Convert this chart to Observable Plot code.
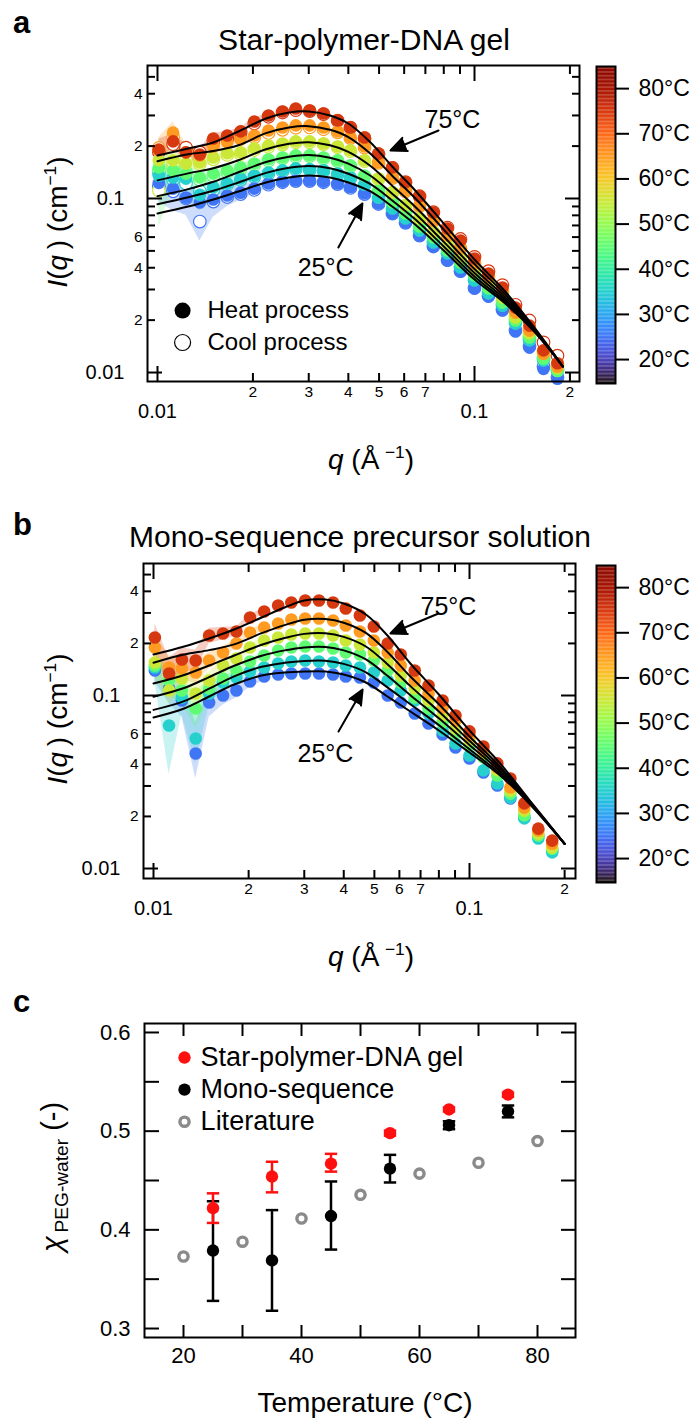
<!DOCTYPE html>
<html><head><meta charset="utf-8">
<script src="https://cdn.jsdelivr.net/npm/d3@7"></script>
<script src="https://cdn.jsdelivr.net/npm/@observablehq/plot@0.6"></script>
<style>
body{margin:0;background:#fff;font-family:"Liberation Sans",Arial,Helvetica,sans-serif;}
#root{position:relative;width:698px;height:1421px;overflow:hidden;background:#fff;}
#root svg{position:absolute;}
.abs{position:absolute;white-space:nowrap;line-height:1;color:#000;}
</style></head><body><div id="root"></div>
<script>
// ---------------- data: panels a & b (SAXS curves) ----------------
const temps = [25, 35, 45, 55, 65, 75];
const qData = [0.0101, 0.0112, 0.0123, 0.0136, 0.0150, 0.0166, 0.0183, 0.0202, 0.0224, 0.0248, 0.0273, 0.0302, 0.0334, 0.0370, 0.0406, 0.0450, 0.0498, 0.0551, 0.0606, 0.0671, 0.0742, 0.0822, 0.0903, 0.1000, 0.1107, 0.1225, 0.1347, 0.1491, 0.1651, 0.1827];
const qFitA = [0.01, 0.0125, 0.015, 0.018, 0.022, 0.026, 0.03, 0.035, 0.04, 0.047, 0.055, 0.065, 0.08, 0.1, 0.125, 0.155, 0.19];
const qFitB = [0.01, 0.0125, 0.015, 0.018, 0.022, 0.026, 0.03, 0.035, 0.04, 0.047, 0.055, 0.065, 0.08, 0.1, 0.125, 0.155, 0.2];

// panel a, heat process
const aHeat25 = [0.123, 0.114, 0.101, 0.0949, 0.0987, 0.104, 0.108, 0.114, 0.122, 0.125, 0.127, 0.127, 0.125, 0.122, 0.116, 0.107, 0.0936, 0.0820, 0.0727, 0.0613, 0.0530, 0.0440, 0.0381, 0.0304, 0.0273, 0.0227, 0.0172, 0.0139, 0.0105, 0.0092];
const aHeat35 = [0.135, 0.132, 0.130, 0.105, 0.116, 0.122, 0.130, 0.135, 0.141, 0.145, 0.149, 0.147, 0.145, 0.139, 0.132, 0.120, 0.101, 0.0876, 0.0767, 0.0654, 0.0559, 0.0483, 0.0401, 0.0338, 0.0285, 0.0242, 0.0191, 0.0153, 0.0117, 0.0102];
const aHeat45 = [0.151, 0.145, 0.139, 0.132, 0.139, 0.145, 0.151, 0.159, 0.168, 0.172, 0.177, 0.177, 0.172, 0.166, 0.155, 0.135, 0.111, 0.0949, 0.0820, 0.0690, 0.0597, 0.0503, 0.0429, 0.0361, 0.0304, 0.0252, 0.0199, 0.0159, 0.0120, 0.0102];
const aHeat55 = [0.166, 0.166, 0.159, 0.161, 0.172, 0.182, 0.184, 0.194, 0.202, 0.207, 0.213, 0.213, 0.207, 0.199, 0.189, 0.166, 0.130, 0.108, 0.0912, 0.0767, 0.0637, 0.0537, 0.0458, 0.0386, 0.0325, 0.0270, 0.0207, 0.0168, 0.0128, 0.0106];
const aHeat65 = [0.189, 0.239, 0.184, 0.177, 0.199, 0.210, 0.218, 0.230, 0.246, 0.256, 0.263, 0.263, 0.256, 0.243, 0.224, 0.199, 0.161, 0.132, 0.111, 0.0912, 0.0747, 0.0613, 0.0516, 0.0423, 0.0352, 0.0288, 0.0221, 0.0174, 0.0128, 0.0108];
const aHeat75 = [0.191, 0.213, 0.184, 0.179, 0.221, 0.230, 0.243, 0.277, 0.300, 0.316, 0.329, 0.320, 0.308, 0.281, 0.256, 0.224, 0.181, 0.151, 0.124, 0.103, 0.0831, 0.0672, 0.0574, 0.0452, 0.0371, 0.0308, 0.0236, 0.0186, 0.0134, 0.0113];
// panel a, cool process
const aCool25 = [0.118, 0.110, 0.100, 0.0737, 0.0960, 0.102, 0.106, 0.112, 0.120, 0.124, 0.126, 0.126, 0.124, 0.121, 0.115, 0.106, 0.0930, 0.0818, 0.0725, 0.0612, 0.0530, 0.0442, 0.0383, 0.0306, 0.0276, 0.0230, 0.0175, 0.0142, 0.0108, 0.0094];
const aCool35 = [0.140, 0.128, 0.122, 0.110, 0.112, 0.120, 0.128, 0.133, 0.139, 0.143, 0.147, 0.146, 0.144, 0.138, 0.131, 0.119, 0.100, 0.0870, 0.0765, 0.0652, 0.0560, 0.0485, 0.0404, 0.0340, 0.0288, 0.0244, 0.0193, 0.0155, 0.0119, 0.0103];
const aCool45 = [0.145, 0.150, 0.142, 0.128, 0.135, 0.142, 0.148, 0.156, 0.165, 0.170, 0.174, 0.175, 0.170, 0.164, 0.153, 0.134, 0.110, 0.0945, 0.0818, 0.0690, 0.0598, 0.0505, 0.0432, 0.0364, 0.0306, 0.0255, 0.0201, 0.0161, 0.0122, 0.0104];
const aCool55 = [0.111, 0.160, 0.165, 0.158, 0.168, 0.178, 0.180, 0.190, 0.198, 0.204, 0.210, 0.210, 0.205, 0.197, 0.187, 0.164, 0.129, 0.108, 0.0910, 0.0765, 0.0640, 0.0540, 0.0460, 0.0390, 0.0328, 0.0272, 0.0210, 0.0170, 0.0130, 0.0108];
const aCool65 = [0.195, 0.225, 0.190, 0.182, 0.205, 0.225, 0.222, 0.225, 0.238, 0.248, 0.255, 0.256, 0.250, 0.240, 0.222, 0.196, 0.160, 0.131, 0.110, 0.0905, 0.0745, 0.0612, 0.0518, 0.0425, 0.0355, 0.0292, 0.0226, 0.0180, 0.0133, 0.0112];
const aCool75 = [0.185, 0.205, 0.196, 0.184, 0.215, 0.221, 0.240, 0.270, 0.295, 0.312, 0.322, 0.318, 0.305, 0.280, 0.255, 0.222, 0.180, 0.150, 0.124, 0.103, 0.0835, 0.0680, 0.0585, 0.0462, 0.0382, 0.0318, 0.0245, 0.0199, 0.0149, 0.0125];
// panel a, fits
const aFit25 = [0.0820, 0.0899, 0.0987, 0.1097, 0.1236, 0.1320, 0.1356, 0.1320, 0.1236, 0.1097, 0.0899, 0.0709, 0.0502, 0.0342, 0.0249, 0.0170, 0.01083];
const aFit35 = [0.0927, 0.1017, 0.1109, 0.1236, 0.1403, 0.1501, 0.1539, 0.1493, 0.1388, 0.1208, 0.0974, 0.0759, 0.0530, 0.0356, 0.0255, 0.0172, 0.01083];
const aFit45 = [0.1032, 0.1132, 0.1247, 0.1415, 0.1621, 0.1738, 0.1778, 0.1716, 0.1587, 0.1351, 0.1066, 0.0819, 0.0563, 0.0373, 0.0262, 0.0173, 0.01083];
const aFit55 = [0.1271, 0.1394, 0.1493, 0.1658, 0.1920, 0.2064, 0.2107, 0.2021, 0.1855, 0.1537, 0.1185, 0.0896, 0.0605, 0.0393, 0.0271, 0.0175, 0.01083];
const aFit65 = [0.1636, 0.1795, 0.1873, 0.2021, 0.2373, 0.2559, 0.2603, 0.2482, 0.2254, 0.1807, 0.1352, 0.1003, 0.0662, 0.0420, 0.0281, 0.0177, 0.01083];
const aFit75 = [0.1767, 0.1938, 0.2098, 0.2427, 0.2884, 0.3121, 0.3162, 0.2999, 0.2698, 0.2098, 0.1527, 0.1112, 0.0718, 0.0446, 0.0292, 0.0180, 0.01083];
// panel a, error bands (first 9 q)
const aBandLo25 = [0.095, 0.085, 0.080, 0.057, 0.078, 0.090, 0.098, 0.106, 0.115];
const aBandHi25 = [0.140, 0.135, 0.120, 0.110, 0.115, 0.118, 0.120, 0.124, 0.130];
const aBandLo35 = [0.110, 0.105, 0.100, 0.085, 0.100, 0.110, 0.120, 0.128, 0.135];
const aBandHi35 = [0.160, 0.155, 0.150, 0.130, 0.130, 0.134, 0.140, 0.142, 0.148];
const aBandLo45 = [0.068, 0.120, 0.125, 0.120, 0.128, 0.136, 0.143, 0.152, 0.162];
const aBandHi45 = [0.190, 0.170, 0.155, 0.145, 0.150, 0.155, 0.160, 0.166, 0.175];
const aBandLo55 = [0.140, 0.150, 0.145, 0.148, 0.160, 0.172, 0.176, 0.186, 0.195];
const aBandHi55 = [0.195, 0.185, 0.175, 0.175, 0.185, 0.193, 0.193, 0.202, 0.210];
const aBandLo65 = [0.160, 0.200, 0.165, 0.162, 0.185, 0.198, 0.208, 0.220, 0.237];
const aBandHi65 = [0.225, 0.275, 0.205, 0.195, 0.215, 0.222, 0.228, 0.240, 0.255];
const aBandLo75 = [0.165, 0.190, 0.165, 0.165, 0.205, 0.218, 0.232, 0.265, 0.290];
const aBandHi75 = [0.220, 0.235, 0.205, 0.195, 0.238, 0.243, 0.255, 0.290, 0.310];

// panel b, data
const bHeat25 = [0.1395, 0.1098, 0.0936, 0.0462, 0.0911, 0.1, 0.1069, 0.1205, 0.1288, 0.1322, 0.134, 0.134, 0.134, 0.1322, 0.1288, 0.1271, 0.1189, 0.1, 0.0911, 0.0787, 0.0689, 0.0595, 0.0501, 0.0432, 0.0359, 0.0302, 0.0254, 0.0197, 0.0155, 0.0127];
const bHeat35 = [0.1451, 0.0671, 0.0974, 0.0564, 0.1027, 0.1189, 0.1271, 0.1376, 0.1451, 0.1531, 0.1572, 0.1593, 0.1572, 0.1551, 0.149, 0.1451, 0.1358, 0.1221, 0.1069, 0.0936, 0.0787, 0.0628, 0.0528, 0.045, 0.0369, 0.031, 0.0257, 0.0195, 0.0149, 0.0124];
const bHeat45 = [0.149, 0.1221, 0.1069, 0.0841, 0.1098, 0.1254, 0.1395, 0.1572, 0.1703, 0.182, 0.1894, 0.192, 0.192, 0.1869, 0.1772, 0.1725, 0.1593, 0.1395, 0.1189, 0.0974, 0.0841, 0.0698, 0.0603, 0.0514, 0.0438, 0.0345, 0.0271, 0.0203, 0.0155, 0.013];
const bHeat55 = [0.1551, 0.1069, 0.1254, 0.1027, 0.1221, 0.149, 0.1636, 0.1894, 0.2079, 0.2164, 0.2253, 0.2283, 0.2283, 0.2223, 0.2079, 0.1971, 0.1772, 0.1551, 0.1305, 0.1098, 0.0936, 0.0766, 0.0645, 0.055, 0.0462, 0.0369, 0.0282, 0.0216, 0.0159, 0.0132];
const bHeat65 = [0.1894, 0.1451, 0.1432, 0.1358, 0.1593, 0.1772, 0.1998, 0.2313, 0.2472, 0.2607, 0.275, 0.2787, 0.2787, 0.2713, 0.2539, 0.2344, 0.2079, 0.1772, 0.149, 0.1221, 0.1027, 0.0853, 0.0717, 0.0587, 0.0481, 0.0384, 0.0294, 0.0225, 0.0166, 0.0139];
const bHeat75 = [0.2164, 0.134, 0.1614, 0.1593, 0.2223, 0.2283, 0.2344, 0.2824, 0.3059, 0.3313, 0.3448, 0.3541, 0.3541, 0.3448, 0.3183, 0.2901, 0.2505, 0.1998, 0.1725, 0.1395, 0.1142, 0.0936, 0.0766, 0.062, 0.0507, 0.0405, 0.0331, 0.0238, 0.017, 0.0145];
const bFit25 = [0.0746, 0.0841, 0.0987, 0.1158, 0.1305, 0.1358, 0.1376, 0.1376, 0.1322, 0.1189, 0.0987, 0.0808, 0.0628, 0.0468, 0.0345, 0.0236, 0.0139];
const bFit35 = [0.0826, 0.0928, 0.1095, 0.1291, 0.1465, 0.1546, 0.1585, 0.1589, 0.1523, 0.1362, 0.1114, 0.089, 0.0674, 0.0489, 0.0353, 0.0238, 0.0139];
const bFit45 = [0.0984, 0.1105, 0.1278, 0.1485, 0.1696, 0.1823, 0.1897, 0.1907, 0.1823, 0.1617, 0.13, 0.1004, 0.0738, 0.0518, 0.0364, 0.0240, 0.0139];
const bFit55 = [0.1173, 0.1314, 0.149, 0.1704, 0.1964, 0.2147, 0.2271, 0.2289, 0.2182, 0.192, 0.1516, 0.1133, 0.0809, 0.0547, 0.0376, 0.0242, 0.0139];
const bFit65 = [0.1547, 0.1724, 0.1829, 0.1974, 0.2292, 0.2552, 0.2742, 0.277, 0.2635, 0.2301, 0.1784, 0.1288, 0.0891, 0.058, 0.0388, 0.0245, 0.0139];
const bFit75 = [0.1725, 0.192, 0.2136, 0.2408, 0.2824, 0.3226, 0.3541, 0.3588, 0.3402, 0.2939, 0.2223, 0.1531, 0.1013, 0.0628, 0.0405, 0.0248, 0.0139];
const bBandLo25 = [0.12, 0.09, 0.075, 0.033, 0.075, 0.088, 0.097, 0.112, 0.122];
const bBandHi25 = [0.16, 0.13, 0.115, 0.07, 0.108, 0.112, 0.117, 0.13, 0.136];
const bBandLo35 = [0.12, 0.035, 0.078, 0.04, 0.088, 0.108, 0.118, 0.13, 0.138];
const bBandHi35 = [0.17, 0.105, 0.118, 0.08, 0.118, 0.13, 0.137, 0.146, 0.153];
const bBandLo45 = [0.125, 0.1, 0.088, 0.065, 0.095, 0.115, 0.13, 0.148, 0.163];
const bBandHi45 = [0.175, 0.145, 0.128, 0.105, 0.125, 0.136, 0.15, 0.166, 0.178];
const bBandLo55 = [0.13, 0.088, 0.108, 0.085, 0.108, 0.137, 0.153, 0.18, 0.2];
const bBandHi55 = [0.18, 0.128, 0.145, 0.122, 0.137, 0.162, 0.175, 0.2, 0.216];
const bBandLo65 = [0.16, 0.12, 0.122, 0.118, 0.143, 0.163, 0.188, 0.22, 0.238];
const bBandHi65 = [0.22, 0.17, 0.165, 0.155, 0.177, 0.192, 0.212, 0.243, 0.257];
const bBandLo75 = [0.18, 0.11, 0.138, 0.138, 0.2, 0.21, 0.22, 0.27, 0.295];
const bBandHi75 = [0.26, 0.165, 0.188, 0.183, 0.245, 0.248, 0.25, 0.295, 0.317];

// axis ticks & labels for a/b
const xMajor = [0.01, 0.1];
const xMinor = [0.02, 0.03, 0.04, 0.05, 0.06, 0.07, 0.08, 0.09, 0.2];
const yMajor = [0.01, 0.1];
const yMinor = [0.02, 0.03, 0.04, 0.05, 0.06, 0.07, 0.08, 0.09, 0.2, 0.3, 0.4, 0.5];
const xMinorLabV = [0.02, 0.03, 0.04, 0.05, 0.06, 0.07, 0.2];
const xMinorLabT = ["2", "3", "4", "5", "6", "7", "2"];
const majorLabV = [0.01, 0.1];
const majorLabT = ["0.01", "0.1"];
const yMinorLabV = [0.02, 0.04, 0.06, 0.2, 0.4];
const yMinorLabT = ["2", "4", "6", "2", "4"];
const cbTicks = [20, 30, 40, 50, 60, 70, 80];

// annotations (data coordinates)
const aArrowX1 = [0.0770, 0.0372], aArrowY1 = [0.246, 0.0523], aArrowX2 = [0.0543, 0.0443], aArrowY2 = [0.1888, 0.0936];
const aNoteX = [0.0852, 0.0339], aNoteY = [0.2807, 0.0401], aNoteT = ["75°C", "25°C"];
const bArrowX1 = [0.0798, 0.0385], bArrowY1 = [0.2979, 0.0619], bArrowX2 = [0.0562, 0.0459], bArrowY2 = [0.2283, 0.1083];
const bNoteX = [0.0858, 0.0350], bNoteY = [0.3227, 0.0462], bNoteT = ["75°C", "25°C"];
const legAX = 0.0120, legATextX = 0.01438, legAY = [0.0227, 0.01488], legAText = ["Heat process", "Cool process"];

// ---------------- data: panel c ----------------
const cLitT = [20, 30, 40, 50, 60, 70, 80];
const cLit = [0.373, 0.388, 0.4115, 0.4355, 0.457, 0.468, 0.490];
const cExpT = [25, 35, 45, 55, 65, 75];
const cGel = [0.422, 0.454, 0.467, 0.498, 0.522, 0.537];
const cGelLo = [0.407, 0.438, 0.459, 0.4955, 0.520, 0.535];
const cGelHi = [0.437, 0.469, 0.477, 0.5005, 0.524, 0.539];
const cMono = [0.379, 0.369, 0.414, 0.462, 0.506, 0.520];
const cMonoLo = [0.328, 0.318, 0.380, 0.448, 0.502, 0.514];
const cMonoHi = [0.429, 0.420, 0.449, 0.476, 0.510, 0.526];
const cXTicks = [20, 30, 40, 50, 60, 70, 80];
const cXLab = [20, 40, 60, 80];
const cYTicks = [0.3, 0.35, 0.4, 0.45, 0.5, 0.55, 0.6];
const cYLab = [0.3, 0.4, 0.5, 0.6];
const cLegX = 20.17, cLegTextX = 22.9, cLegY = [0.5746, 0.5421, 0.5096];
const cLegText = ["Star-polymer-DNA gel", "Mono-sequence", "Literature"];

// ---------------- helpers ----------------
const FONT = "'Liberation Sans', Arial, Helvetica, sans-serif";
const root = document.getElementById("root");
const colorScale = {type: "linear", scheme: "turbo", domain: [15, 85]};
const pts = (qs, vals, t) => vals.map((v, i) => ({q: qs[i], I: v, T: t}));
const bnd = (lo, hi, t) => lo.map((v, i) => ({q: qData[i], lo: v, hi: hi[i], T: t}));

function place(node, left, top) {
  node.style.left = left + "px"; node.style.top = top + "px";
  root.appendChild(node);
}
function html(h, x, y, fs, mode, bold) {
  const d = document.createElement("div");
  d.className = "abs";
  d.style.fontSize = fs + "px";
  if (bold) d.style.fontWeight = "bold";
  if (mode === "rot") d.style.transform = "translate(-50%,-50%) rotate(-90deg)";
  else if (mode === "center") d.style.transform = "translate(-50%,-50%)";
  d.innerHTML = h;
  place(d, x, y);
}
function frameTicks(xMaj, xMin, yMaj, yMin, xl, xs, yl, ys) {
  const o = {tickFormat: () => "", strokeWidth: 2, label: null};
  const m = [];
  for (const anchor of ["bottom", "top"]) {
    m.push(Plot.axisX({...o, anchor, ticks: xMaj, tickSize: -xl}));
    if (xMin) m.push(Plot.axisX({...o, anchor, ticks: xMin, tickSize: -xs}));
  }
  for (const anchor of ["left", "right"]) {
    m.push(Plot.axisY({...o, anchor, ticks: yMaj, tickSize: -yl}));
    if (yMin) m.push(Plot.axisY({...o, anchor, ticks: yMin, tickSize: -ys}));
  }
  return m;
}
function logLabels() {
  return [
    Plot.text(xMinorLabV, {x: d => d, text: (d, i) => xMinorLabT[i], frameAnchor: "bottom", dy: 15, fontSize: 15.5}),
    Plot.text(majorLabV, {x: d => d, text: (d, i) => majorLabT[i], frameAnchor: "bottom", dy: 36, fontSize: 20}),
    Plot.text(yMinorLabV, {y: d => d, text: (d, i) => yMinorLabT[i], frameAnchor: "left", dx: -5, textAnchor: "end", fontSize: 15.5}),
    Plot.text(majorLabV, {y: d => d, text: (d, i) => majorLabT[i], frameAnchor: "left", dx: -23, textAnchor: "end", fontSize: 20})
  ];
}
function colorbar(top) {
  const steps = d3.range(14.7, 84.9, 0.3);
  const svg = Plot.plot({
    width: 108, height: 337, marginTop: 10, marginBottom: 10, marginLeft: 6, marginRight: 83,
    style: {fontFamily: FONT, background: "transparent"},
    x: {domain: [0, 1], axis: null},
    y: {domain: [14.7, 84.9]},
    color: colorScale,
    marks: [
      Plot.rect(steps, {x1: 0, x2: 1, y1: d => d, y2: d => Math.min(84.9, d + 0.32), fill: d => d + 0.15}),
      Plot.frame({stroke: "black", strokeWidth: 2}),
      Plot.axisY({anchor: "right", ticks: cbTicks, tickSize: 13, tickPadding: 10, strokeWidth: 2,
        tickFormat: d => d + "°C", fontSize: 23, label: null})
    ]
  });
  place(svg, 590, top);
}

// ---------------- panel a ----------------
const aHeat = [pts(qData, aHeat25, 25), pts(qData, aHeat35, 35), pts(qData, aHeat45, 45), pts(qData, aHeat55, 55), pts(qData, aHeat65, 65), pts(qData, aHeat75, 75)].flat();
const aCool = [pts(qData, aCool25, 25), pts(qData, aCool35, 35), pts(qData, aCool45, 45), pts(qData, aCool55, 55), pts(qData, aCool65, 65), pts(qData, aCool75, 75)].flat();
const aFit = [pts(qFitA, aFit25, 25), pts(qFitA, aFit35, 35), pts(qFitA, aFit45, 45), pts(qFitA, aFit55, 55), pts(qFitA, aFit65, 65), pts(qFitA, aFit75, 75)].flat();
const aBand = [bnd(aBandLo25, aBandHi25, 25), bnd(aBandLo35, aBandHi35, 35), bnd(aBandLo45, aBandHi45, 45), bnd(aBandLo55, aBandHi55, 55), bnd(aBandLo65, aBandHi65, 65), bnd(aBandLo75, aBandHi75, 75)].flat();

function saxsPlot({heat, cool, fit, band, ax1, ay1, ax2, ay2, nx, ny, nt, xDomain, yDomain, margins, legend}) {
  const marks = [
    Plot.areaY(band, {x: "q", y1: "lo", y2: "hi", z: "T", fill: "T", fillOpacity: 0.25})
  ];
  if (cool) marks.push(Plot.dot(cool, {x: "q", y: "I", r: 6.3, fill: "white", stroke: "T", strokeWidth: 1.2}));
  marks.push(
    Plot.dot(heat, {x: "q", y: "I", r: 6.3, fill: "T"}),
    Plot.line(fit, {x: "q", y: "I", z: "T", stroke: "black", strokeWidth: 2, curve: "catmull-rom"}),
    Plot.arrow(ax1, {x1: d => d, y1: (d, i) => ay1[i], x2: (d, i) => ax2[i], y2: (d, i) => ay2[i],
      stroke: "black", fill: "black", strokeWidth: 2, headLength: 15, headAngle: 48}),
    Plot.text(nt, {x: (d, i) => nx[i], y: (d, i) => ny[i], text: d => d, fontSize: 25,
      textAnchor: (d, i) => i === 0 ? "start" : "middle"}),
    Plot.frame({stroke: "black", strokeWidth: 2}),
    ...frameTicks(xMajor, xMinor, yMajor, yMinor, 15, 8, 15, 8),
    ...logLabels()
  );
  if (legend) {
    marks.push(
      Plot.dot([legAY[0]], {x: () => legAX, y: d => d, r: 8, fill: "black"}),
      Plot.dot([legAY[1]], {x: () => legAX, y: d => d, r: 8, fill: "white", stroke: "black", strokeWidth: 1.2}),
      Plot.text(legAY, {x: () => legATextX, y: d => d, text: (d, i) => legAText[i], textAnchor: "start", fontSize: 24})
    );
  }
  return Plot.plot({
    width: 698, height: 440, ...margins,
    style: {fontFamily: FONT, background: "transparent", color: "black"},
    x: {type: "log", domain: xDomain},
    y: {type: "log", domain: yDomain},
    color: colorScale,
    marks
  });
}

const svgA = saxsPlot({heat: aHeat, cool: aCool, fit: aFit, band: aBand,
  ax1: aArrowX1, ay1: aArrowY1, ax2: aArrowX2, ay2: aArrowY2, nx: aNoteX, ny: aNoteY, nt: aNoteT,
  xDomain: [0.0093, 0.2144], yDomain: [0.00888, 0.581],
  margins: {marginTop: 65, marginBottom: 59, marginLeft: 147, marginRight: 119}, legend: true});
place(svgA, 0, 0);
colorbar(56);

// ---------------- panel b ----------------
const bHeat = [pts(qData, bHeat25, 25), pts(qData, bHeat35, 35), pts(qData, bHeat45, 45), pts(qData, bHeat55, 55), pts(qData, bHeat65, 65), pts(qData, bHeat75, 75)].flat();
const bFit = [pts(qFitB, bFit25, 25), pts(qFitB, bFit35, 35), pts(qFitB, bFit45, 45), pts(qFitB, bFit55, 55), pts(qFitB, bFit65, 65), pts(qFitB, bFit75, 75)].flat();
const bBand = [bnd(bBandLo25, bBandHi25, 25), bnd(bBandLo35, bBandHi35, 35), bnd(bBandLo45, bBandHi45, 45), bnd(bBandLo55, bBandHi55, 55), bnd(bBandLo65, bBandHi65, 65), bnd(bBandLo75, bBandHi75, 75)].flat();
const svgB = saxsPlot({heat: bHeat, cool: null, fit: bFit, band: bBand,
  ax1: bArrowX1, ay1: bArrowY1, ax2: bArrowX2, ay2: bArrowY2, nx: bNoteX, ny: bNoteY, nt: bNoteT,
  xDomain: [0.009297, 0.2165], yDomain: [0.008755, 0.5794],
  margins: {marginTop: 63, marginBottom: 62, marginLeft: 143, marginRight: 123}, legend: false});
place(svgB, 0, 500);
colorbar(555);

// ---------------- panel c ----------------
const gel = cExpT.map((t, i) => ({T: t, v: cGel[i], lo: cGelLo[i], hi: cGelHi[i]}));
const mono = cExpT.map((t, i) => ({T: t, v: cMono[i], lo: cMonoLo[i], hi: cMonoHi[i]}));
const lit = cLitT.map((t, i) => ({T: t, v: cLit[i]}));
function errMarks(data, col) {
  return [
    Plot.ruleX(data, {x: "T", y1: "lo", y2: "hi", stroke: col, strokeWidth: 2.5}),
    Plot.link(data, {x1: d => d.T - 1.05, x2: d => d.T + 1.05, y1: "lo", y2: "lo", stroke: col, strokeWidth: 2.5}),
    Plot.link(data, {x1: d => d.T - 1.05, x2: d => d.T + 1.05, y1: "hi", y2: "hi", stroke: col, strokeWidth: 2.5}),
    Plot.dot(data, {x: "T", y: "v", r: 6.2, fill: col})
  ];
}
const svgC = Plot.plot({
  width: 698, height: 431, marginTop: 33, marginBottom: 84, marginLeft: 144, marginRight: 123,
  style: {fontFamily: FONT, background: "transparent", color: "black"},
  x: {domain: [13.39, 86.44]},
  y: {domain: [0.2909, 0.6091]},
  marks: [
    Plot.dot(lit, {x: "T", y: "v", r: 4.6, fill: "white", stroke: "#8a8a8a", strokeWidth: 3.4}),
    ...errMarks(mono, "black"),
    ...errMarks(gel, "#ff1010"),
    Plot.frame({stroke: "black", strokeWidth: 2}),
    ...frameTicks(cXTicks, null, cYTicks, null, 12, 0, 15, 0),
    Plot.text(cXLab, {x: d => d, text: d => String(d), frameAnchor: "bottom", dy: 25, fontSize: 22}),
    Plot.text(cYLab, {y: d => d, text: d => d.toFixed(1), frameAnchor: "left", dx: -14, textAnchor: "end", fontSize: 22}),
    Plot.dot([cLegY[0]], {x: () => cLegX, y: d => d, r: 6.2, fill: "#ff1010"}),
    Plot.dot([cLegY[1]], {x: () => cLegX, y: d => d, r: 6.2, fill: "black"}),
    Plot.dot([cLegY[2]], {x: () => cLegX, y: d => d, r: 4.6, fill: "white", stroke: "#8a8a8a", strokeWidth: 3.4}),
    Plot.text(cLegY, {x: () => cLegTextX, y: d => d, text: (d, i) => cLegText[i], textAnchor: "start", fontSize: 27})
  ]
});
place(svgC, 0, 990);

// ---------------- HTML text: panel letters, titles, axis titles ----------------
const sup = s => `<span style="font-size:0.62em;vertical-align:0.62em">${s}</span>`;
html("a", 13, 7, 31, null, true);
html("b", 13, 509, 31, null, true);
html("c", 13, 986, 31, null, true);
html("Star-polymer-DNA gel", 364, 40, 30, "center");
html("Mono-sequence precursor solution", 360, 537, 30, "center");
const yLab = `<i>I</i>(<i>q</i>&#8201;) (cm${sup("−1")})`;
const xLab = `<i>q</i> (Å&#8201;${sup("−1")})`;
html(yLab, 57, 222, 28, "rot");
html(xLab, 371, 459, 28, "center");
html(yLab, 57, 719, 28, "rot");
html(xLab, 371, 956, 28, "center");
html(`<i>χ</i><span style="font-size:0.66em;position:relative;top:0.3em">&#8201;PEG-water</span> (-)`, 52, 1177, 29, "rot");
html("Temperature (°C)", 365, 1403, 28, "center");
</script></body></html>
